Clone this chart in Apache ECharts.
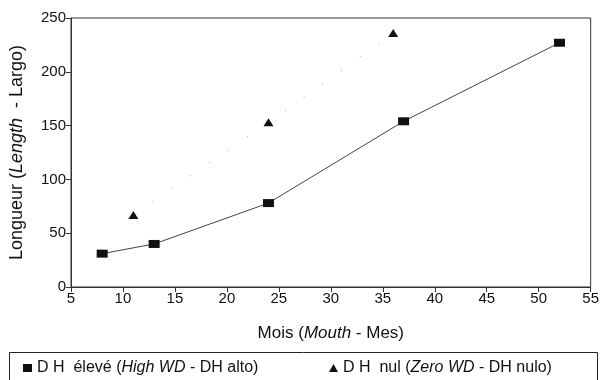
<!DOCTYPE html>
<html>
<head>
<meta charset="utf-8">
<script src="https://cdn.jsdelivr.net/npm/echarts@6/dist/echarts.min.js"></script>
<style>
	html, body {margin: 0; background: #fff;}
	#chart {width: 602px; height: 380px;}
</style>
</head>
<body>
<div id="chart"></div>
<script>
// D H élevé (high WD)
const highMonths = [8, 13, 24, 37, 52];
const highLength = [31, 40, 78, 154, 227];
// D H nul (zero WD)
const zeroMonths = [11, 24, 36];
const zeroLength = [67, 153, 236];

const xMin = 5, xMax = 55, xStep = 5;
const yMin = 0, yMax = 250, yStep = 50;

const font = '"Liberation Sans", Arial, sans-serif';
const ink = '#111';

const legendText = {
	'high': '{n|D H  élevé (}{i|High WD}{n| - DH alto)}',
	'zero': '{n|D H  nul (}{i|Zero WD}{n| - DH nulo)}'
};
const richOf = size => ({
	n: {fontFamily: font, fontSize: size, color: ink},
	i: {fontFamily: font, fontSize: size, color: ink, fontStyle: 'italic'}
});

const legendBase = {
	bottom: -1,
	itemWidth: 9,
	itemHeight: 8,
	formatter: name => legendText[name],
	textStyle: {rich: richOf(16)}
};

const myChart = echarts.init(document.getElementById('chart'));
myChart.setOption({
	animation: false,
	textStyle: {fontFamily: font, color: ink},
	grid: {
		left: 69, right: 10, top: 18, bottom: 93,
		show: true, borderColor: '#333', borderWidth: 1
	},
	graphic: [{
		type: 'rect',
		shape: {x: 9.5, y: 352.5, width: 588, height: 30},
		style: {fill: 'none', stroke: '#222', lineWidth: 1}
	}],
	legend: [
		{...legendBase, left: 18, data: [{name: 'high', icon: 'rect'}]},
		{...legendBase, left: 324, data: [{name: 'zero', icon: 'triangle'}]}
	],
	xAxis: {
		type: 'value',
		min: xMin, max: xMax, interval: xStep,
		name: '{n|Mois (}{i|Mouth}{n| - Mes)}',
		nameLocation: 'middle',
		nameGap: 38,
		nameTextStyle: {rich: richOf(17)},
		axisLine: {lineStyle: {color: '#333'}},
		axisTick: {show: true, inside: false, length: 5, lineStyle: {color: '#333'}},
		axisLabel: {fontSize: 15, color: ink, margin: 4},
		splitLine: {show: false}
	},
	yAxis: {
		type: 'value',
		min: yMin, max: yMax, interval: yStep,
		name: '{n|Longueur (}{i|Length}{n|  - Largo)}',
		nameLocation: 'middle',
		nameGap: 45,
		nameTextStyle: {rich: richOf(18)},
		axisLine: {show: true, lineStyle: {color: '#333'}},
		axisTick: {show: true, inside: false, length: 5, lineStyle: {color: '#333'}},
		axisLabel: {fontSize: 15, color: ink, margin: 5},
		splitLine: {show: false}
	},
	series: [
		{
			name: 'high',
			type: 'line',
			data: highMonths.map((m, i) => [m, highLength[i]]),
			symbol: 'rect',
			symbolSize: [11, 8],
			itemStyle: {color: '#111'},
			lineStyle: {color: '#444', width: 1}
		},
		{
			name: 'zero',
			type: 'line',
			data: zeroMonths.map((m, i) => [m, zeroLength[i]]),
			symbol: 'triangle',
			symbolSize: [10, 8],
			itemStyle: {color: '#111'},
			lineStyle: {color: '#999', width: 1, type: [1, 22]}
		}
	]
});
</script>
</body>
</html>
